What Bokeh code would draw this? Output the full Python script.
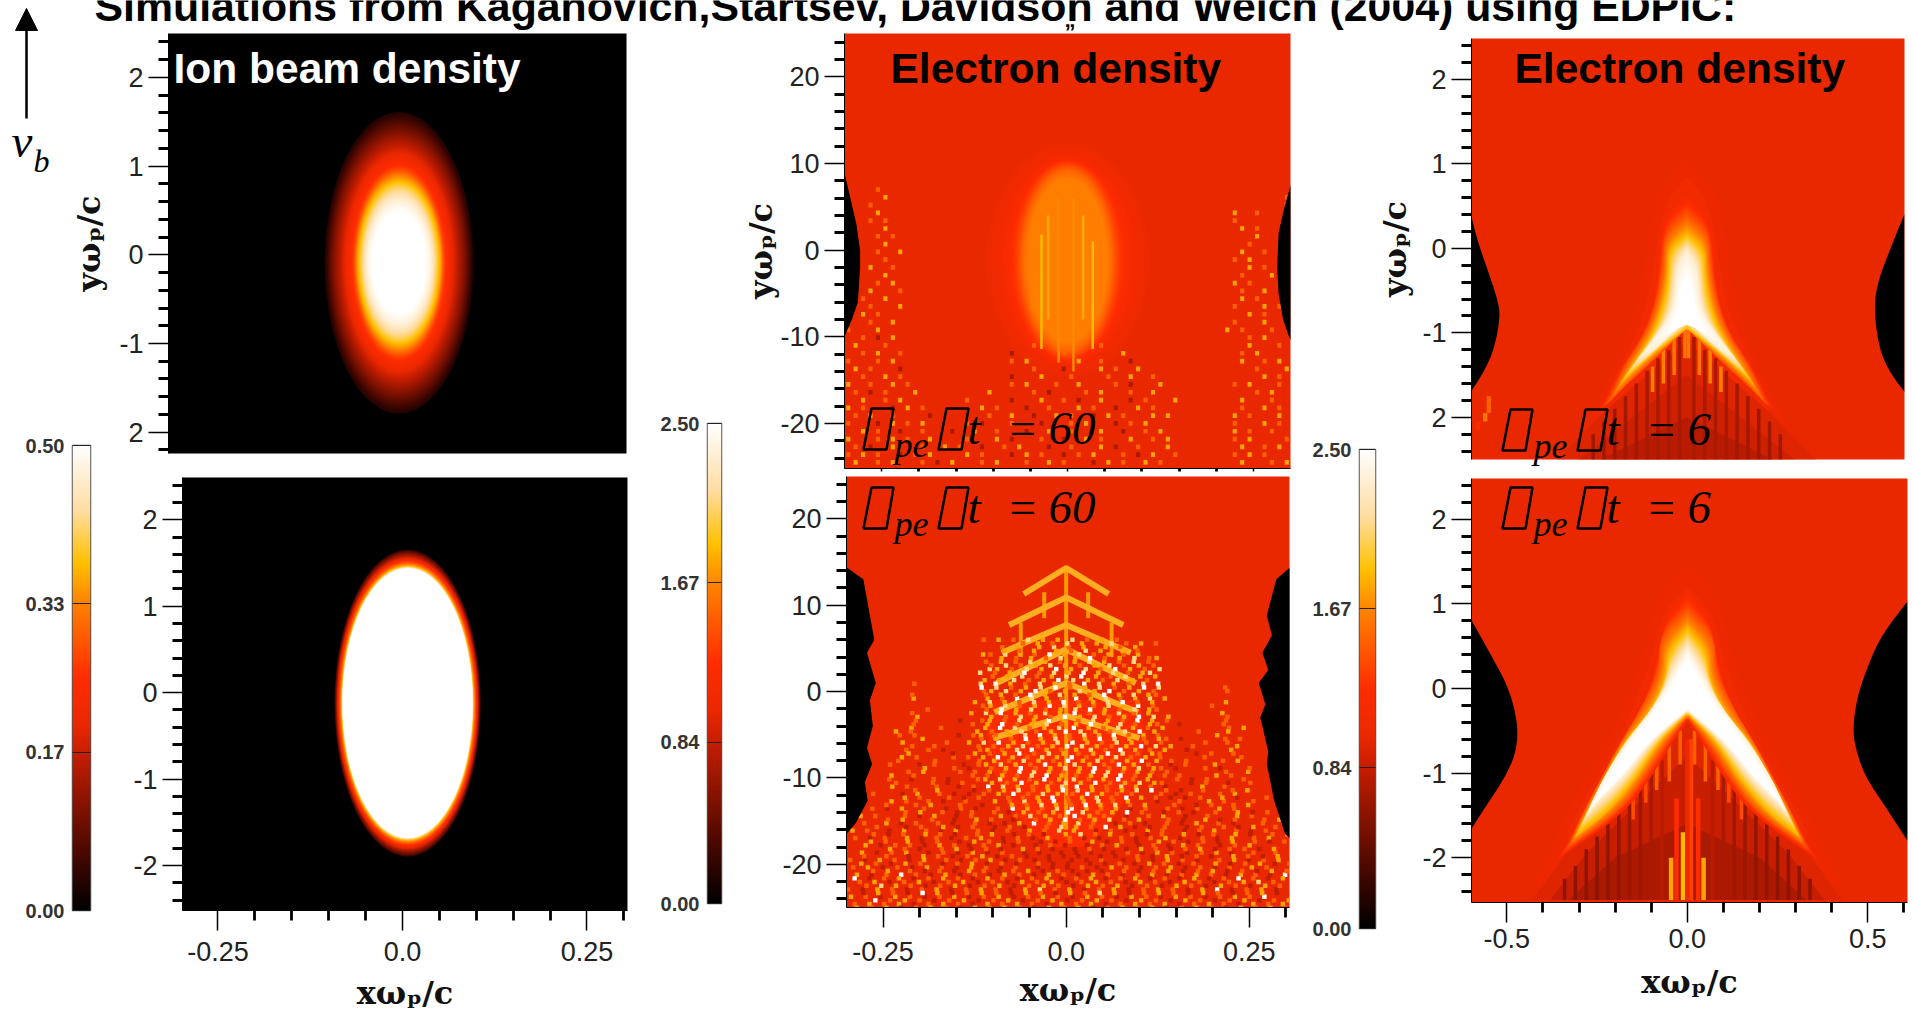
from bokeh.plotting import figure
from bokeh.embed import file_html
from bokeh.resources import INLINE
from bokeh.core.properties import value
from bokeh.models import Range1d, FixedTicker, LinearColorMapper, Arrow, NormalHead
import numpy as np

TITLE = "Simulations from Kaganovich,Startsev, Davidson and Welch (2004) using EDPIC:"

# colour scale
CMAP_POS = [0.0, 0.10, 0.34, 0.40, 0.50, 0.66, 0.75, 0.86, 1.0]
CMAP_COL = ["#000000", "#3c0600", "#c81e00", "#ea2800", "#ff2c00", "#ff8000", "#ffc000", "#ffdca0", "#ffffff"]

CB1_TICKS = [0.0, 0.17, 0.33, 0.5]
CB1_LABELS = ["0.00", "0.17", "0.33", "0.50"]
CB2_TICKS = [0.0, 0.84, 1.67, 2.5]
CB2_LABELS = ["0.00", "0.84", "1.67", "2.50"]

# ion beam contours (value, half x, half y)
ION_TOP_V = [.03, .05, .08, .11, .14, .17, .20, .23, .26, .29, .33, .36, .39, .42, .45, .48, .50]
ION_TOP_HX = [.097, .094, .090, .086, .081, .076, .071, .066, .061, .058, .056, .054, .051, .048, .045, .041, .036]
ION_TOP_HY = [1.70, 1.64, 1.56, 1.48, 1.40, 1.32, 1.24, 1.16, 1.09, 1.04, .99, .94, .89, .83, .76, .68, .58]
ION_BOT_V = [0.05, 0.12, 0.20, 0.27, 0.33, 0.40, 0.50]
ION_BOT_HX = [.099, .097, .095, .093, .091, .089, .088]
ION_BOT_HY = [1.775, 1.73, 1.68, 1.64, 1.61, 1.58, 1.56]

# electron density, t=60, upper panel
E60_V = [1.04, 1.08, 1.12, 1.2, 1.3, 1.4, 1.5, 1.58, 1.64]
E60_HX = [.11, .10, .09, .08, .072, .066, .062, .058, .054]
E60_HY = [13.5, 12.8, 12.0, 11.7, 11.4, 11.0, 10.6, 10.0, 9.5]
E60_STREAK_X = [-.035, -.026, -.012, .008, .021, .034, -.048, .045]
E60_STREAK_Y0 = [-11.4, -8.0, -13.0, -14.0, -8.0, -11.4, -7.0, -7.0]
E60_STREAK_Y1 = [1.8, 4.0, 6.0, 6.0, 4.0, 1.0, 0.0, 0.0]
E60_STREAK_V = [1.85, 1.8, 1.68, 1.68, 1.8, 1.85, 1.62, 1.62]
E60_L_X = [-.3, -.292, -.284, -.279, -.279, -.282, -.29, -.3]
E60_L_Y = [8.9, 6, 3, 0, -2, -6, -8, -10]
E60_R_X = [.305, .292, .284, .282, .284, .29, .298, .305]
E60_R_Y = [8.9, 5, 2, -2, -5, -8, -10, -11]

E60_GRID = [
"....o.......................................................",
".....y.....................................................o",
"...o.......................................................y",
"....y...............................................y..o....",
"...o.o..............................................o.......",
".....y...............................................y.o....",
"....o.o................................................y....",
".....y................................................o.....",
"....o..y.............................................y..o...",
".....o..............................................o.y.....",
"...y..o...............................................y.o...",
".....y...............................................o...y..",
"....o.y.............................................y.o.....",
"...y...o.............................................o..y...",
"..o..y...............................................y.o....",
"...o...y............................................o...y.o.",
"..y.o.................................................y.o...",
"...o..y.............................................o...y...",
"o...y..............................................y.o...o..",
"..o.d.y...............................................o.y...",
".y...o...................o........o...................y...o.y",
"..o.y..o..............d......o.......y...............o.y....",
"o...o.y...............o.y......y..o...d..............y..o.y.",
".y.o...d.................o...d....y.o..y...............o...y",
"..o..y.o..............d...y...o....o..y..o..............y.o.",
"y..o..y.o.............o.y...o..y....o.d...y.........o.y...o.",
".o.d.o...y.........y.....o.d....o.y...o..y.............o.y..",
"..y..o.y........o.....d...y..o.d..y...d.o...y........y...o..",
"y.o...d.y.o.......y.o...d..o...y.o..d..y.o...........o..y.o.",
".o.y..o....d.......o..y..d..y.o..d.y.o...y.y........y.o...y.",
"o...d.y.o.y.....o.d...o...d...o.y...d.o.y...........o...y.o.",
"..y.o..d..o...d..y..o...d..y..o...y..d..o.y.........y.o..o..",
"y...o.y.o..y....o...y.d...o..d..y.o...y..o.y........o.y....o",
".o.d..y...o..y.o..d..o.y...d..o...y.d..o...y.........y..o.y.",
"o.y.o..d.o.y....y.o...d.y.o..d.o.y...o.d.y..o.......o.y.o...",
".y..o.y...o.d.y...o.y...o..y.o...d.y.o..y.o..........y...o.y",
]

# electron density, t=60, lower panel
LAT_APEX_Y = [14.3, 10.9, 7.7, 4.9, 1.0, -2.8]
LAT_END_X = [.058, .078, .088, .095, .098, .100]
LAT_END_Y = [11.3, 7.7, 4.5, 1.0, -2.4, -5.4]
LAT_SPINE_X = [0.0, -.03, .03, -.062, .062]
LAT_SPINE_TOP = [14.0, 11.5, 11.5, 8.0, 8.0]
LAT_SPINE_BOT = [-16.0, 8.5, 8.5, 4.0, 4.0]
E60B_CORE_X = [-.100, -.108, -.100, -.085, -.065, -.045, -.02, .02, .045, .065, .085, .100, .108, .100]
E60B_CORE_Y = [-1.0, -5.0, -9.0, -12.0, -14.5, -16.5, -18.0, -18.0, -16.5, -14.5, -12.0, -9.0, -5.0, -1.0]
E60B_L_X = [-.3, -.277, -.268, -.262, -.272, -.26, -.268, -.264, -.272, -.265, -.275, -.271, -.287, -.3]
E60B_L_Y = [14.4, 13, 8.8, 6, 4.5, 1, -1, -4, -6.5, -8.4, -10.5, -12.6, -15.2, -16.5]
E60B_R_X = [.306, .287, .274, .281, .268, .276, .263, .272, .265, .268, .276, .274, .284, .299, .306]
E60B_R_Y = [14.4, 13, 8.8, 6.5, 4.5, 2.5, 1, -1.5, -3, -4, -7, -8.4, -12.6, -16.5, -17]

E60B_GRID = [
"...................o.y.o.p.y.y.p.o.y.o.....................",
"....................o.y..y.p.o.y..y.o.y....................",
"..................yo.p.y.o.w.y.p.o.y.o.y...................",
"...................o.y.o.p.y.o.y.p.y.o.p.o.................",
"..................py.o.p.y.w.y.p.o.w.y.o.p.................",
"...................o.y.p.o.y.p.w.y.o.p.y.y.................",
".........o........p.w.y.o.p.y.o.w.p.y.o.p.w................",
"...................oy.p.y.w.o.y.p.y.w.o.y.o.........o......",
"........y.........y.o.w.p.y.o.w.y.p.o.y.p.y................",
"..................oy.p.o.y.w.p.y.o.p.y.w.o.......o.........",
".........o.......y.p.w.y.o.p.y.w.o.y.p.o.y.........y.......",
"........o.....d..oy.o.p.y.w.y.o.p.y.o.w.y.o.......o........",
"........y...o.....y.w.p.o.y.p.w.y.o.p.y.o.y........o.y.....",
".......o.o.....d.oy.o.y.p.w.y.o.p.y.w.o.y.o.......y........",
"........y.....o..y.p.w.y.o.y.p.w.y.o.p.y.o.o.....o..o......",
".......o..o.d....oy.o.p.w.y.o.y.p.o.w.y.o.y..d.....y.......",
".......y.o....o.o.y.w.y.o.p.y.w.o.y.p.o.y.o.....o....o.....",
"......o...d.o...d.oy.p.y.o.w.y.p.y.o.w.y.o..d.o...y........",
".......o.y....o.o.y.o.w.p.y.o.y.w.p.o.y.o.o.......o..y.....",
".....o..d..o.d...oy.p.y.o.w.y.p.o.y.w.o.y...o.d.o....o.....",
"......y.o...o..d.o.w.p.y.o.y.p.w.y.o.p.y.o.d....y..o.......",
"....o...d.y..o.d.d.o.y.w.o.p.y.o.w.y.o.o...o.d.o...o.y.....",
".....y.o..o.d..o...y.o.p.y.w.o.y.p.o.y...d..o...y.o...o....",
"...o.d.y..o..d.o.d..o.w.y.o.p.w.y.o.y.d.o..o.d.o..y.o......",
"..y.o...o.d.y..d.o...y.o.p.y.o.w.y.o..d..o.y..d..o...y.o...",
".o..y.d.o..o.d..o.d.d.y.w.o.y.p.o..d.o.d..o.d.y..o.d...o...",
"y.o..d.y..o.d.y..o.d.o..y.o.p.y..d.o.d..y.o..d.o.y..o.d.o..",
".o.d.o..y.d.o.d.o.y..d.o.d.y..o.d.d..o.d.o.y.d..o.d.y..o.y.",
"o..y.d.o.o.d.y.o.d.o.y.d..d.o.d..d.o.y..d.o.d.y.o..d.o.y...",
".y.d.o.y..d.o.d.y.d.o..d.d..d.d.d..d.o.d.y.o.d.o.y.d..o..o.",
"o.d.y.o.d.y..o.d.o.y.d.o.d.d..d.d.o..d.o.d.y.o.d..o.y.d.o.y",
".o.y.d.o.d.y.o.d.y.o.d.o..d.d.d.o.d.y.o.d.o.y.d.o.d.o..y.o.",
"y.d.o.w.o.d.y.d.o.d.y.o.d.y.o.d.y.o.d.o.y.d.o.y.o.d.y.o.d.w",
".o.y.d.o.y.d.o.y.d.o.d.y.o.y.d.o.y.o.d.y.o.d.y.o.d.o.y.p.o.",
"o.d.y.o.d.o.y.d.o.y.o.d.y.p.o.y.d.o.y.d.o.y.o.d.y.w.d.o.y.d",
".y.o.d.y.o.d.o.y.d.o.y.d.o.y.o.d.y.o.d.y.o.d.y.o.d.o.y.o.w.",
"o.y.o.y.d.o.y.o.d.y.o.y.o.d.y.o.y.d.o.y.o.y.d.o.y.o.d.y.o.y",
]

# electron density, t=6: glow contours (half-width at y)
E6T_GLOW_V = [1.03, 1.10]
E6T_GLOW_Y = [[1.05, .7, .2, -.6, -1.4, -2.1, -2.4], [.85, .55, 0, -.8, -1.6, -2.1]]
E6T_GLOW_W = [[0, .08, .105, .13, .2, .28, .32], [0, .06, .085, .115, .21, .25]]
E6B_GLOW_V = [1.03, 1.10]
E6B_GLOW_Y = [[1.45, 1.1, .5, -.5, -1.4, -2.1, -2.4], [1.2, .9, .4, -.5, -1.3, -2.0]]
E6B_GLOW_W = [[0, .085, .115, .2, .33, .4, .44], [0, .07, .095, .175, .285, .37]]

# plume rings: outer edge and inner edge
E6_RING_V = [1.15, 1.45, 1.85, 2.35, 2.5]
E6T_OUT_Y = [[.62, .45, .1, -.3, -.7, -1.05, -1.45, -1.78, -1.95], [.41, .18, -.22, -.61, -1.0, -1.4, -1.72, -1.84], [.18, 0, -.3, -.61, -1.0, -1.38, -1.6], [-.02, -.22, -.6, -.81, -1.0, -1.2, -1.3], [-.3, -.5, -.7, -.85, -1.0]]
E6T_OUT_W = [[0, .05, .075, .08, .095, .128, .19, .225, .25], [0, .062, .067, .082, .113, .175, .206, .22], [0, .05, .052, .062, .092, .15, .185], [0, .03, .035, .05, .08, .115, .135], [0, .018, .022, .035, .055]]
E6T_IN_Y = [[-1.95, -1.7, -1.45, -1.2, -.85], [-1.84, -1.8, -1.6, -1.4, -1.2, -.95], [-1.6, -1.4, -1.2, -.95], [-1.3, -1.2, -1.0, -.85], [-1.0, -.9]]
E6T_IN_W = [[.25, .19, .12, .062, 0], [.22, .21, .165, .113, .062, 0], [.185, .135, .08, 0], [.135, .09, .04, 0], [.055, 0]]
E6B_OUT_Y = [[1.15, .85, .4, 0, -.5, -.95, -1.4, -1.9, -2.05], [.93, .61, .2, -.22, -.63, -1.05, -1.46, -1.88], [.72, .45, .1, -.3, -.63, -1.05, -1.46, -1.75], [.49, .2, -.13, -.63, -1.05, -1.38, -1.5], [.35, .1, -.13, -.63, -1.05, -1.35]]
E6B_OUT_W = [[0, .06, .085, .105, .16, .225, .285, .34, .37], [0, .077, .077, .124, .185, .237, .288, .33], [0, .055, .06, .105, .175, .228, .278, .31], [0, .041, .077, .17, .232, .268, .278], [0, .035, .065, .155, .215, .26]]
E6B_IN_Y = [[-2.05, -1.5, -1.05, -.63, -.36], [-1.88, -1.46, -1.05, -.63, -.34], [-1.75, -1.46, -1.05, -.63, -.30], [-1.5, -1.38, -1.05, -.63, -.26], [-1.35, -1.05, -.63, -.24]]
E6B_IN_W = [[.37, .18, .1, .04, 0], [.33, .19, .118, .057, 0], [.31, .22, .14, .08, 0], [.278, .258, .175, .103, 0], [.26, .185, .11, 0]]

E6T_L_X = [-.6, -.582, -.556, -.525, -.518, -.535, -.566, -.6]
E6T_L_Y = [.41, .1, -.22, -.61, -.81, -1.2, -1.48, -1.7]
E6T_R_X = [.605, .566, .53, .52, .535, .566, .605]
E6T_R_Y = [.41, .0, -.4, -.73, -1.2, -1.48, -1.7]
E6B_L_X = [-.6, -.546, -.494, -.469, -.474, -.505, -.556, -.6]
E6B_L_Y = [.82, .41, 0, -.42, -.755, -1.05, -1.38, -1.67]
E6B_R_X = [.61, .535, .494, .469, .458, .469, .494, .546, .61]
E6B_R_Y = [1.03, .61, .2, -.13, -.5, -.755, -1.05, -1.38, -1.8]

# fan below the plume: nested triangles and stripes
E6T_FAN_V = [.95, .88, .78]
E6T_FAN_W = [[.36, .22, 0], [.30, 0], [.24, 0]]
E6T_FAN_Y = [[-2.5, -1.9, -1.1], [-2.5, -1.5], [-2.5, -2.0]]
E6T_DARK_X = [.02, .05, .08, .11, .14, .17, .20, .23, .26]
E6T_DARK_T = [-1.05, -1.2, -1.3, -1.45, -1.6, -1.75, -1.9, -2.05, -2.2]
E6T_DARK_V = [.72, .72, .72, .72, .7, .7, .68, .68, .68]
E6T_ORG_X = [.005, .035, .065, .095]
E6T_ORG_T = [-.95, -1.05, -1.2, -1.4]
E6T_ORG_B = [-1.3, -1.5, -1.6, -1.7]
E6T_ORG_V = [1.6, 1.6, 1.65, 1.65]
E6T_SP_X = [-.55, -.55, -.56, -.58]
E6T_SP_Y = [-1.8, -1.9, -2.0, -2.1]
E6T_SP_V = [1.5, 1.5, 1.6, 1.2]

E6B_FAN_V = [.95, .85, .72]
E6B_FAN_W = [[.43, .33, .118, 0], [.38, .28, .10, 0], [.33, .20, 0]]
E6B_FAN_Y = [[-2.5, -1.92, -1.05, -.4], [-2.5, -1.95, -1.2, -.8], [-2.5, -2.0, -1.6]]
E6B_DARK_X = [.07, .10, .13, .16, .19, .22, .25, .28, .31, .34]
E6B_DARK_T = [-.85, -1.0, -1.15, -1.3, -1.45, -1.6, -1.75, -1.9, -2.1, -2.25]
E6B_DARK_V = [.78, .72, .68, .66, .62, .62, .6, .6, .6, .6]
E6B_ORG_X = [.02, .05, .085, .115, .15]
E6B_ORG_T = [-.5, -.6, -.8, -1.0, -1.2]
E6B_ORG_B = [-.9, -1.1, -1.2, -1.35, -1.55]
E6B_ORG_V = [1.5, 1.5, 1.5, 1.4, 1.4]
E6B_MID_X = [.045, .03, .01, -.045, -.03, -.012, .0]
E6B_MID_T = [-2.0, -1.3, -.6, -2.0, -1.3, -1.7, -.6]
E6B_MID_V = [1.78, 1.25, 1.35, 1.78, 1.25, 1.85, 1.05]

# ---------------------------------------------------------------------------
pos = np.array(CMAP_POS)
rgb = np.array([[int(c[i:i + 2], 16) for i in (1, 3, 5)] for c in CMAP_COL], float)
def col(t):
    t = min(max(t, 0), 1)
    return "#%02x%02x%02x" % tuple(int(round(np.interp(t, pos, rgb[:, k]))) for k in range(3))
PALETTE = [col(i / 255) for i in range(256)]
BG = col(1.0 / 2.5)
def ec(v):
    return col(v / 2.5)

roots = []
def panel(x0, y0, x1, y1, xr, yr, bg, xt=None, yt=None, xlabel=None, ylabel=None, ystand=6, xstand=10, short=False, xtick=5):
    L, B, T, R = 150, 100, 3, 4
    f = figure(width=int(x1 - x0) + L + R, height=int(y1 - y0) + T + B, frame_width=int(x1 - x0), frame_height=int(y1 - y0),
               x_range=Range1d(*xr), y_range=Range1d(*yr), output_backend="svg", toolbar_location=None,
               min_border_left=L, min_border_right=R, min_border_top=T, min_border_bottom=B,
               background_fill_color=bg, border_fill_color=None, outline_line_color=None,
               styles={"position": "absolute", "left": f"{int(x0 - L)}px", "top": f"{int(y0 - T)}px"})
    f.grid.visible = False
    ax = f.yaxis[0]
    ax.ticker = FixedTicker(ticks=yt[0], minor_ticks=yt[1])
    ax.major_label_overrides = yt[2]
    style_axis(ax)
    ax.axis_line_color = "black"
    if ylabel:
        ax.axis_label = ylabel
        ax.axis_label_standoff = ystand
        label_style(ax)
    bx = f.xaxis[0]
    if xt:
        bx.ticker = FixedTicker(ticks=xt[0], minor_ticks=xt[1])
        style_axis(bx)
        bx.major_label_standoff = xtick
        if short:
            bx.major_tick_out = 3; bx.minor_tick_out = 3
            bx.major_label_overrides = {v: "" for v in xt[0]}
        else:
            bx.axis_label = xlabel
            bx.axis_label_standoff = xstand
            label_style(bx)
    else:
        bx.visible = False
    roots.append(f)
    return f

def style_axis(ax):
    ax.major_tick_out = 20; ax.major_tick_in = 0; ax.minor_tick_out = 10; ax.minor_tick_in = 0
    ax.major_tick_line_width = 1.5; ax.minor_tick_line_width = 2.8
    ax.major_tick_line_color = "black"; ax.minor_tick_line_color = "black"
    ax.major_label_text_font = "Liberation Sans"; ax.major_label_text_font_size = "27px"
    ax.major_label_text_color = "#222222"; ax.major_label_standoff = 5

def label_style(ax):
    ax.axis_label_text_font = "DejaVu Serif"; ax.axis_label_text_font_style = "bold"
    ax.axis_label_text_font_size = "32px"; ax.axis_label_text_color = "#111111"

def ells(f, vs, hx, hy, cx, cy, fn, steps=1):
    # contours between the read ones are drawn at intermediate values so the shading is continuous
    v = np.linspace(vs[0], vs[-1], (len(vs) - 1) * steps + 1)
    a = np.interp(v, vs, hx); b = np.interp(v, vs, hy)
    f.ellipse(x=[cx] * len(v), y=[cy] * len(v), width=list(2 * a), height=list(2 * b),
              fill_color=[fn(q) for q in v], line_color=None)

def chaikin(xs, ys, n=3, closed=False):
    p = np.column_stack([xs, ys]).astype(float)
    for _ in range(n):
        q = np.roll(p, -1, axis=0) if closed else p[1:]
        a = p if closed else p[:-1]
        new = np.empty((2 * len(a), 2))
        new[0::2] = .75 * a + .25 * q
        new[1::2] = .25 * a + .75 * q
        p = new if closed else np.vstack([p[0], new, p[-1]])
    return p

def blacks(f, lx, ly, rx, ry, edge, smooth=False):
    for xs, ys, e in ((lx, ly, edge[0]), (rx, ry, edge[1])):
        if smooth:
            p = chaikin(xs, ys)
            xs, ys = list(p[:, 0]), list(p[:, 1])
        f.patch(list(xs) + [e], list(ys) + [ys[-1]], fill_color="black", line_color=None)

def speck(f, grid, xr, ytop, dy, w=.6, h=.6, flip=False, dark=.72):
    grid_v = {"d": dark, "o": 1.5, "y": 1.78, "p": 2.1, "w": 2.5}
    n = 60
    dx = (xr[1] - xr[0]) / n
    xs, ys, cs, rs = [], [], [], []
    for r, row in enumerate(grid):
        for c, ch in enumerate(row):
            if ch in grid_v:
                xs.append(xr[0] + (c + .5) * dx); ys.append(ytop - r * dy); cs.append(ec(grid_v[ch])); rs.append(r)
    xs = np.array(xs); rs = np.array(rs)
    if flip:
        shift = ((rs * 5) % 7 - 3) * dx * .3
        f.rect(x=list(xs + shift), y=ys, width=dx * w, height=dy * h, fill_color=cs, line_color=None)
        f.rect(x=list(sum(xr) - xs + dx / 2 - shift), y=[y - dy / 2 for y in ys], width=dx * w, height=dy * h, fill_color=cs, line_color=None)
    else:
        f.rect(x=list(xs), y=ys, width=dx * w, height=dy * h, fill_color=cs, line_color=None)

def closed_poly(oy, ow, iy=(), iw=()):
    xs = list(ow) + list(iw)
    ys = list(oy) + list(iy)
    xa = xs + [-q for q in reversed(xs)]
    ya = ys + list(reversed(ys))
    p = chaikin(xa, ya, 3, closed=True)
    s = int(np.argmax(p[:, 1]))
    p = np.vstack([np.roll(p, -s, axis=0), p[s]])
    d = np.r_[0, np.cumsum(np.hypot(*np.diff(p, axis=0).T))]
    t = np.linspace(0, d[-1], 240)
    return np.column_stack([np.interp(t, d, p[:, 0]), np.interp(t, d, p[:, 1])])

def glow(f, vs, ys, ws):
    for v, a, b in zip(vs, ys, ws):
        p = closed_poly(a, b)
        f.patch(p[:, 0], p[:, 1], fill_color=ec(v), line_color=None)

def rings(f, vs, oy, ow, iy, iw, steps=6):
    polys = [closed_poly(a, b, c, d) for a, b, c, d in zip(oy, ow, iy, iw)]
    for i in range(len(polys) - 1):
        for k in range(steps):
            u = k / steps
            p = polys[i] * (1 - u) + polys[i + 1] * u
            f.patch(p[:, 0], p[:, 1], fill_color=ec(vs[i] * (1 - u) + vs[i + 1] * u), line_color=None)
    f.patch(polys[-1][:, 0], polys[-1][:, 1], fill_color=ec(vs[-1]), line_color=None)

def fan(f, vs, ws, ys):
    for v, w, y in zip(vs, ws, ys):
        f.patch(list(w) + [-q for q in reversed(w)], list(y) + list(reversed(y)), fill_color=ec(v), line_color=None)

def mirrored(f, xs, tops, bots, vs, lw):
    f.segment(x0=list(xs) + [-q for q in xs], y0=list(tops) * 2, x1=list(xs) + [-q for q in xs], y1=list(bots) * 2,
              line_color=[ec(v) for v in vs] * 2, line_width=lw)

def ymaj(vals, minors):
    return (vals, minors, {v: str(v) for v in vals})

Y1 = ymaj([-2, -1, 0, 1, 2], [v / 5 for v in range(-13, 14) if v % 5])
Y1[2][-2] = "2"
X30 = ([-.25, 0, .25], [v * .05 for v in range(-6, 7) if v % 5])
X60 = ([-.5, 0, .5], [v * .1 for v in range(-6, 7) if v % 5])
Y25 = ymaj([-20, -10, 0, 10, 20], [v * 2 for v in range(-13, 14) if v % 5])
Y25b = Y1[0], Y1[1], {v: str(v) for v in Y1[0]}

# top-left
f = panel(168, 33, 626, 453, (-.298, .300), (-2.24, 2.495), "black", yt=Y1, ylabel="yωₚ/c", ystand=8)
ells(f, ION_TOP_V, ION_TOP_HX, ION_TOP_HY, .003, -.09, lambda v: col(v / .5), steps=4)
# bottom-left
f = panel(182, 477, 627, 910, (-.298, .305), (-2.52, 2.49), "black", xt=X30, yt=Y25b, xlabel="xωₚ/c", xtick=11, xstand=10)
f.xaxis[0].major_label_overrides = {-.25: "-0.25", 0: "0.0", .25: "0.25"}
ells(f, ION_BOT_V, ION_BOT_HX, ION_BOT_HY, .007, -.12, lambda v: col(v / .5), steps=4)
# top-middle
f = panel(844, 33, 1290, 468, (-.3, .3), (-25.2, 25), BG, xt=X30, yt=Y25, short=True, ylabel="yωₚ/c", ystand=-3)
ells(f, E60_V, E60_HX, E60_HY, .0, -1.2, ec, steps=3)
f.segment(x0=E60_STREAK_X, y0=E60_STREAK_Y0, x1=E60_STREAK_X, y1=E60_STREAK_Y1, line_color=[ec(v) for v in E60_STREAK_V], line_width=2.5)
speck(f, E60_GRID, (-.3, .3), 7.0, .9, w=.55, h=.6)
blacks(f, E60_L_X, E60_L_Y, E60_R_X, E60_R_Y, (-.3, .305))
# bottom-middle
f = panel(846, 476, 1289, 907, (-.3, .305), (-25, 24.9), BG, xt=X30, yt=Y25, xlabel="xωₚ/c", xtick=14, xstand=7)
f.xaxis[0].major_label_overrides = {-.25: "-0.25", 0: "0.0", .25: "0.25"}
f.patch(E60B_CORE_X, E60B_CORE_Y, fill_color=ec(1.25), line_color=None)
f.segment(x0=LAT_SPINE_X, y0=LAT_SPINE_TOP, x1=LAT_SPINE_X, y1=LAT_SPINE_BOT, line_color="#ff9a00", line_width=4)
for a, ex, ey in zip(LAT_APEX_Y, LAT_END_X, LAT_END_Y):
    f.line([-ex, 0, ex], [ey, a, ey], line_color="#ffae20", line_width=6)
speck(f, E60B_GRID, (-.3, .305), 6.0, .85, w=.6, h=.6, flip=True, dark=.82)
blacks(f, E60B_L_X, E60B_L_Y, E60B_R_X, E60B_R_Y, (-.3, .306))
# top-right
f = panel(1471, 38, 1904, 459, (-.598, .605), (-2.5, 2.486), BG, yt=Y1, ylabel="yωₚ/c", ystand=5)
glow(f, E6T_GLOW_V, E6T_GLOW_Y, E6T_GLOW_W)
fan(f, E6T_FAN_V, E6T_FAN_W, E6T_FAN_Y)
mirrored(f, E6T_DARK_X, E6T_DARK_T, [-2.5] * len(E6T_DARK_X), E6T_DARK_V, 3.5)
mirrored(f, E6T_ORG_X, E6T_ORG_T, E6T_ORG_B, E6T_ORG_V, 3.5)
rings(f, E6_RING_V, E6T_OUT_Y, E6T_OUT_W, E6T_IN_Y, E6T_IN_W)
f.rect(x=E6T_SP_X, y=E6T_SP_Y, width=.012, height=.1, fill_color=[ec(v) for v in E6T_SP_V], line_color=None)
blacks(f, E6T_L_X, E6T_L_Y, E6T_R_X, E6T_R_Y, (-.6, .605), smooth=True)
# bottom-right
f = panel(1471, 478, 1907, 902, (-.598, .61), (-2.53, 2.48), BG, xt=X60, yt=Y25b, xlabel="xωₚ/c", xtick=6, xstand=12)
f.xaxis[0].major_label_overrides = {-.5: "-0.5", 0: "0.0", .5: "0.5"}
glow(f, E6B_GLOW_V, E6B_GLOW_Y, E6B_GLOW_W)
fan(f, E6B_FAN_V, E6B_FAN_W, E6B_FAN_Y)
mirrored(f, E6B_DARK_X, E6B_DARK_T, [-2.5] * len(E6B_DARK_X), E6B_DARK_V, 3.5)
mirrored(f, E6B_ORG_X, E6B_ORG_T, E6B_ORG_B, E6B_ORG_V, 3.5)
f.segment(x0=E6B_MID_X, y0=E6B_MID_T, x1=E6B_MID_X, y1=[-2.5] * len(E6B_MID_X), line_color=[ec(v) for v in E6B_MID_V], line_width=4.5)
rings(f, E6_RING_V, E6B_OUT_Y, E6B_OUT_W, E6B_IN_Y, E6B_IN_W)
blacks(f, E6B_L_X, E6B_L_Y, E6B_R_X, E6B_R_Y, (-.6, .61), smooth=True)

# colour bars
def cbar(x0, y0, x1, y1, vmax, ticks, labels):
    L, M = 70, 16
    f = figure(width=int(x1 - x0) + L + 2, height=int(y1 - y0) + 2 * M, frame_width=int(x1 - x0), frame_height=int(y1 - y0),
               x_range=Range1d(0, 1), y_range=Range1d(0, vmax), output_backend="svg", toolbar_location=None,
               min_border_left=L, min_border_right=2, min_border_top=M, min_border_bottom=M,
               border_fill_color=None, outline_line_color="#555555", outline_line_width=1.5,
               styles={"position": "absolute", "left": f"{int(x0 - L)}px", "top": f"{int(y0 - M)}px"})
    f.grid.visible = False; f.xaxis.visible = False
    f.image(image=[np.linspace(0, 1, 256).reshape(-1, 1)], x=0, y=0, dw=1, dh=vmax,
            color_mapper=LinearColorMapper(palette=PALETTE, low=0, high=1))
    a = f.yaxis[0]
    a.ticker = FixedTicker(ticks=ticks)
    a.major_label_overrides = dict(zip(ticks, labels))
    a.minor_tick_line_color = None; a.major_tick_out = 0; a.major_tick_in = int(x1 - x0)
    a.major_tick_line_color = "#222222"; a.axis_line_color = None
    a.major_label_text_font = "Liberation Sans"; a.major_label_text_font_style = "bold"
    a.major_label_text_font_size = "20px"; a.major_label_text_color = "#333333"; a.major_label_standoff = 8
    roots.append(f)

cbar(72, 445, 90, 910, .5, CB1_TICKS, CB1_LABELS)
cbar(707, 423, 721, 903, 2.5, CB2_TICKS, CB2_LABELS)
cbar(1359, 449, 1375, 928, 2.5, CB2_TICKS, CB2_LABELS)

# overlay in page pixels: title, panel captions, arrow
ov = figure(width=1913, height=1011, x_range=Range1d(0, 1913), y_range=Range1d(1011, 0), output_backend="svg",
            toolbar_location=None, min_border=0, background_fill_color=None, border_fill_color=None,
            outline_line_color=None, styles={"position": "absolute", "left": "0px", "top": "0px"})
ov.axis.visible = False; ov.grid.visible = False

def txt(x, y, s, size, font="Liberation Sans", style="bold", color="black"):
    ov.text(x=[x], y=[y - .3 * size], text=[s], text_font=value(font), text_font_size=f"{size}px", text_font_style=style,
            text_color=color, text_baseline="middle", text_align="left")

txt(94, 18, TITLE, 42.8)
txt(1064, 26, "„", 22)
txt(173, 81, "Ion beam density", 42.5, color="white")
txt(890, 81, "Electron density", 42.5)
txt(1514, 81, "Electron density", 42.5)

def box(x, base):
    # the picture shows an empty slanted rectangle where a symbol glyph was missing
    ov.patch([x, x + 8, x + 30, x + 23], [base + 7, base - 34, base - 34, base + 7], fill_color=None, line_color="black", line_width=2.5)

def formula(x, base, num):
    box(x, base)
    txt(x + 31, base + 13, "pe", 36, "Liberation Serif", "italic")
    box(x + 75, base)
    txt(x + 104, base, "t", 47, "Liberation Serif", "italic")
    txt(x + 143, base, "=", 47, "Liberation Serif", "italic")
    txt(x + 185, base, num, 47, "Liberation Serif", "italic")

formula(863, 442, "60")
formula(863, 521, "60")
formula(1502, 443, "6")
formula(1502, 521, "6")

ov.add_layout(Arrow(end=NormalHead(size=22, fill_color="black", line_color="black"), x_start=26, y_start=118, x_end=26, y_end=8,
                    line_width=2.5, line_color="black"))
txt(11, 155, "v", 47, "Liberation Serif", "italic")
txt(33, 170, "b", 32, "Liberation Serif", "italic")
roots.append(ov)

open("out.html", "w").write(file_html(roots, INLINE))
